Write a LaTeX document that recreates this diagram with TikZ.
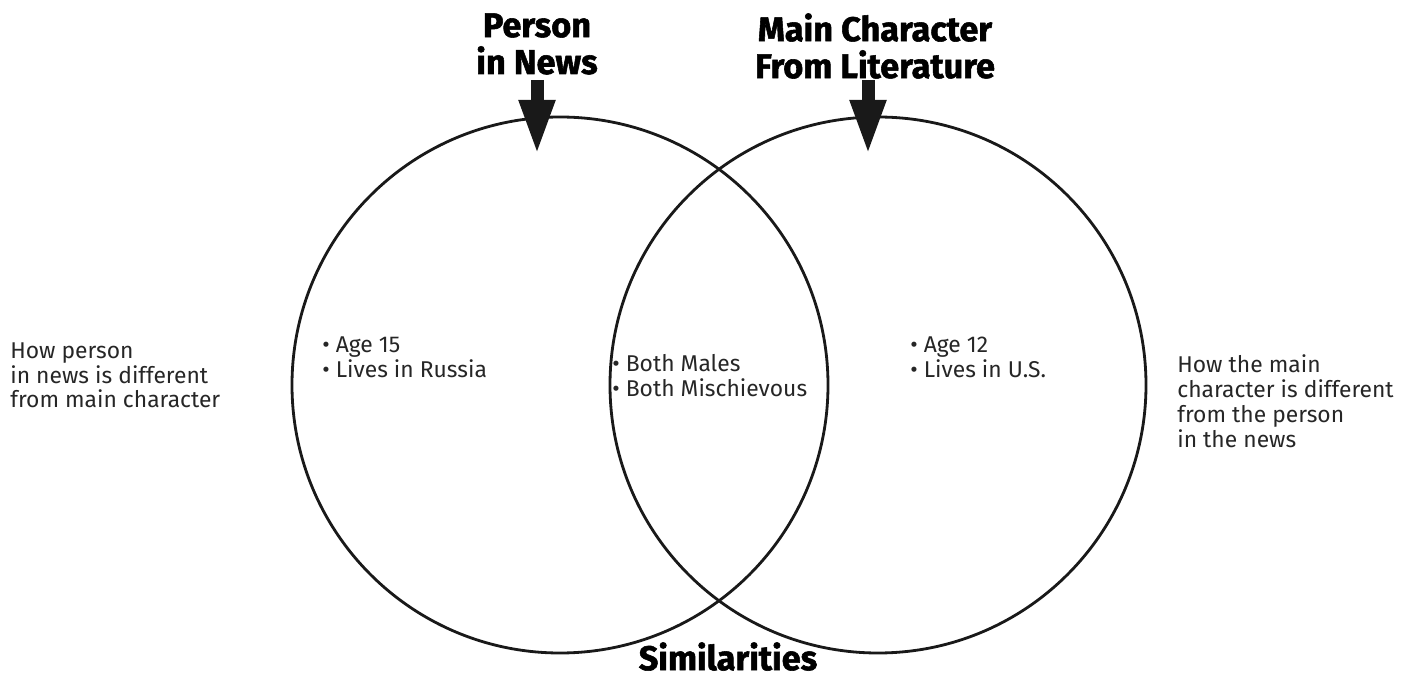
\documentclass[tikz,border=0pt]{standalone}
\usepackage{fontspec}
\setmainfont{Fira Sans}
\newfontfamily\headfont{Fira Sans}[BoldFeatures={FakeBold=1.6}]
\usepackage{tikz}
\usetikzlibrary{arrows.meta}
\usetikzlibrary{calc}

\begin{document}
\begin{tikzpicture}[
        circle_style/.style={draw=black!90, line width=1.6pt},
        title_style/.style={font=\headfont\fontsize{19.5}{21}\selectfont\bfseries, align=center, inner sep=0pt},
        item_style/.style={font=\fontsize{13}{14.2}\selectfont, align=left, anchor=north west, inner sep=0pt, text=black!85},
        arrow_style/.style={draw=black!90, line width=2.6mm, -{Triangle[width=6.6mm,length=11mm]}}]

        \useasboundingbox (0,0) rectangle (28.34,-13.66);

        % the two circles
        \draw [circle_style] (11.2,-7.7) circle (5.36);
        \draw [circle_style] (17.56,-7.7) circle (5.36);

        % headings
        \node [title_style, anchor=north](news) at (10.74,-0.26) {Person\\in News};

        \node [title_style, anchor=north](lit) at (17.5,-0.26) {Main Character\\From Literature};

        \node [title_style, anchor=north](sim) at (14.56,-12.84) {Similarities};

        \coordinate (news_tip) at (10.74,-3.1);
        \coordinate (lit_tip) at (17.36,-3.1);

        \draw [arrow_style] (news.south |- 0,-1.6) -- (news_tip);

        \draw [arrow_style] (17.36,-1.6) -- (lit_tip);

        % texts
        \node [item_style](left_note) at (0.2,-6.84) {How person\\in news is different\\from main character};

        \node [item_style](left_items) at (6.44,-6.72) {\textbullet\ Age 15\\\textbullet\ Lives in Russia};

        \node [item_style](mid_items) at (12.24,-7.08) {\textbullet\ Both Males\\\textbullet\ Both Mischievous};

        \node [item_style](right_items) at (18.2,-6.72) {\textbullet\ Age 12\\\textbullet\ Lives in U.S.};

        \node [item_style](right_note) at (23.54,-7.08) {How the main\\character is different\\from the person\\in the news};

        \end{tikzpicture}
\end{document}
